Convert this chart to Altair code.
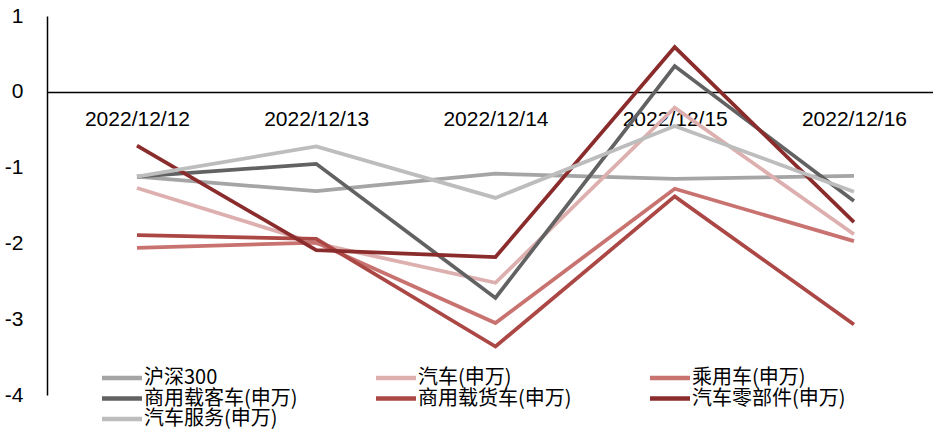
import json
import altair as alt
import pandas as pd

dates = ["2022/12/12", "2022/12/13", "2022/12/14", "2022/12/15", "2022/12/16"]
series = ["沪深300", "汽车(申万)", "乘用车(申万)", "商用载客车(申万)",
          "商用载货车(申万)", "汽车零部件(申万)", "汽车服务(申万)"]
colors = ["#A5A5A5", "#DDAFAF", "#C97371", "#626262", "#AB4744", "#8B2C2C", "#BDBDBD"]

hs300 = [-1.12, -1.31, -1.08, -1.15, -1.11]
auto = [-1.27, -2.00, -2.52, -0.21, -1.88]
passenger = [-2.06, -1.99, -3.05, -1.28, -1.97]
bus = [-1.12, -0.95, -2.72, 0.34, -1.44]
truck = [-1.89, -1.94, -3.36, -1.38, -3.07]
parts = [-0.71, -2.09, -2.18, 0.59, -1.72]
service = [-1.12, -0.72, -1.40, -0.45, -1.32]
all_values = [hs300, auto, passenger, bus, truck, parts, service]

rows = []
for k, (s, vals) in enumerate(zip(series, all_values)):
    for i, v in enumerate(vals):
        rows.append({"series": s, "idx": i, "value": v, "k": k})
df = pd.DataFrame(rows)

label_expr = json.dumps(dates, ensure_ascii=False) + "[round(datum.value)]"

chart = alt.Chart(df).mark_line(strokeWidth=3.75, strokeJoin="miter").encode(
    x=alt.X(
        "idx:Q",
        title=None,
        scale=alt.Scale(domain=[-0.502, 4.441], nice=False, zero=False),
        axis=alt.Axis(
            values=[0, 1, 2, 3, 4], labelExpr=label_expr, orient="bottom",
            offset=-303, domainColor="black", domainWidth=1.5, ticks=False,
            grid=False, labelFontSize=21, labelFont="Liberation Sans",
            labelColor="black", labelPadding=16, labelOverlap=False,
            labelFlush=False,
        ),
    ),
    y=alt.Y(
        "value:Q",
        title=None,
        scale=alt.Scale(domain=[-4, 1], nice=False, zero=False),
        axis=alt.Axis(
            values=[-4, -3, -2, -1, 0, 1], labelExpr="'' + datum.value",
            ticks=False, grid=False, domainColor="black", domainWidth=1.5,
            labelFontSize=21, labelFont="Liberation Sans", labelColor="black",
            labelPadding=24,
        ),
    ),
    color=alt.Color(
        "series:N",
        title=None,
        scale=alt.Scale(domain=series, range=colors),
        legend=alt.Legend(
            orient="none", direction="horizontal", legendX=55, legendY=352,
            columns=3, symbolType="M-4,0L4,0", symbolSize=100,
            symbolStrokeWidth=4.5, symbolOffset=10, labelOffset=12,
            labelFont="Noto Sans CJK SC", labelFontSize=20, labelColor="black",
            columnPadding=69, rowPadding=0.5, gridAlign="all", padding=0,
            labelLimit=400,
        ),
    ),
    order=alt.Order("idx:Q"),
).properties(
    width=886,
    height=379,
    autosize=alt.AutoSizeParams(type="none"),
    padding={"left": 47, "top": 16, "right": 0, "bottom": 37},
    background="white",
).configure_view(strokeWidth=0)

chart.save("out.html", embed_options={"renderer": "svg", "actions": False})
